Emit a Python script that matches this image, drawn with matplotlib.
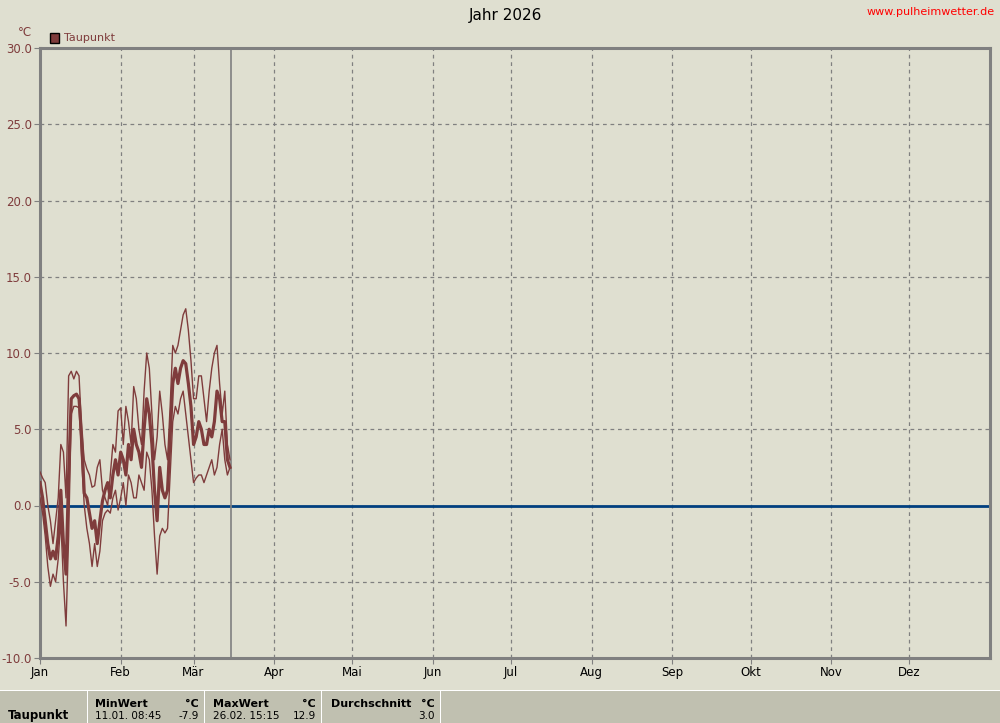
import numpy as np
import matplotlib.pyplot as plt
from matplotlib.patches import Rectangle

# day of year (0 = 1 Jan) for the drawn values
days = np.arange(0, 74)

# daily maximum dew point (thin upper line)
taupunkt_max = [2.2, 1.8, 1.5, 0.0, -1.0, -2.5, -1.0, 0.5, 4.0, 3.5,
                0.5, 8.5, 8.8, 8.3, 8.8, 8.5, 5.0, 3.0, 2.4, 2.0,
                1.2, 1.3, 2.5, 3.0, 1.0, 0.5, 0.0, 2.0, 4.0, 3.5,
                6.2, 6.4, 4.0, 6.5, 5.5, 4.0, 7.8, 7.0, 5.0, 4.0,
                7.5, 10.0, 9.0, 6.0, 3.0, 4.5, 7.5, 6.0, 4.0, 3.0,
                6.5, 10.5, 10.0, 10.5, 11.5, 12.5, 12.9, 11.5, 9.5, 7.0,
                7.0, 8.5, 8.5, 7.0, 5.5, 7.5, 9.0, 10.0, 10.5, 8.0,
                6.0, 7.5, 4.0, 3.0]

# daily minimum dew point (thin lower line)
taupunkt_min = [0.5, -0.5, -2.0, -4.0, -5.3, -4.5, -5.0, -3.5, -1.0, -5.0,
                -7.9, -2.0, 6.0, 6.5, 6.5, 6.4, 3.0, 0.0, -1.5, -2.5,
                -4.0, -2.5, -4.0, -3.0, -1.0, -0.5, -0.3, -0.5, 0.5, 1.0,
                -0.3, 0.5, 1.5, 0.0, 2.0, 1.5, 0.5, 0.5, 2.0, 1.5,
                1.0, 3.5, 3.0, 1.0, -2.0, -4.5, -2.0, -1.5, -1.8, -1.5,
                2.0, 5.5, 6.5, 6.0, 7.0, 7.5, 6.0, 4.5, 3.0, 1.5,
                1.8, 2.0, 2.0, 1.5, 2.0, 2.5, 3.0, 2.0, 2.5, 4.0,
                5.0, 3.0, 2.0, 2.5]

# daily mean dew point (thick line)
taupunkt = [1.5, 0.5, -1.0, -2.5, -3.5, -3.0, -3.5, -2.0, 1.0, -2.5,
            -4.5, 2.0, 7.0, 7.2, 7.3, 7.0, 4.5, 0.8, 0.5, -0.5,
            -1.5, -1.0, -2.5, -1.0, 0.3, 1.0, 1.5, 0.5, 2.0, 3.0,
            2.0, 3.5, 3.0, 2.0, 4.0, 3.0, 5.0, 4.0, 3.5, 2.5,
            5.0, 7.0, 6.0, 4.0, 1.0, -1.0, 2.5, 1.0, 0.5, 1.0,
            4.5, 8.0, 9.0, 8.0, 9.0, 9.5, 9.3, 8.0, 6.5, 4.0,
            4.5, 5.5, 5.0, 4.0, 4.0, 5.0, 4.5, 5.5, 7.5, 7.0,
            5.5, 5.5, 3.0, 2.5]

heute = 73.4
monate = ["Jan", "Feb", "Mär", "Apr", "Mai", "Jun", "Jul", "Aug", "Sep", "Okt", "Nov", "Dez"]
monat_start = [0, 31, 59, 90, 120, 151, 181, 212, 243, 273, 304, 334]
y_ticks = [-10, -5, 0, 5, 10, 15, 20, 25, 30]

bg = "#dfdfd0"
rot = "#7f3c3c"
grau = "#808080"

fig = plt.figure(figsize=(10, 7.23), dpi=100, facecolor=bg)
ax = fig.add_axes([0.04, 1 - 658 / 723, 0.95, 610 / 723])
ax.set_facecolor(bg)

ax.set_xlim(0, 365)
ax.set_ylim(-10, 30)

# grid
for m in monat_start[1:]:
    ax.axvline(m, color=grau, lw=0.9, ls=(0, (3, 3)), zorder=1)
for y in y_ticks[1:-1]:
    if y != 0:
        ax.axhline(y, color=grau, lw=0.9, ls=(0, (3, 3)), zorder=1)
ax.axhline(0, color="#003f7f", lw=2, zorder=2)
ax.axvline(heute, color=grau, lw=1.2, zorder=2)

ax.plot(days, taupunkt_max, color=rot, lw=1, zorder=3)
ax.plot(days, taupunkt_min, color=rot, lw=1, zorder=3)
ax.plot(days, taupunkt, color=rot, lw=2.3, zorder=4)

for s in ax.spines.values():
    s.set_color(grau)
    s.set_linewidth(2.2)

ax.set_yticks(y_ticks)
ax.set_yticklabels(["%.1f" % v for v in y_ticks], color=rot, fontsize=8.5)
ax.set_xticks(monat_start)
ax.set_xticklabels(monate, fontsize=8.5)
ax.tick_params(axis="both", length=4, color=grau, pad=2)

fig.text(0.506, 0.978, "Jahr 2026", ha="center", va="center", fontsize=11)
fig.text(0.995, 0.983, "www.pulheimwetter.de", ha="right", va="center", fontsize=8, color="red")
fig.text(0.025, 0.955, "°C", ha="center", va="center", fontsize=8.5, color=rot)
fig.patches.append(Rectangle((50 / 1000, 1 - 43 / 723), 9 / 1000, 10 / 723,
                             transform=fig.transFigure, facecolor=rot, edgecolor="black", lw=1))
fig.text(0.064, 1 - 38 / 723, "Taupunkt", ha="left", va="center", fontsize=8, color=rot)

# table at the bottom
zelle = "#c0c0b0"
spalten = [(0, 87), (88, 204), (205, 321), (322, 440), (441, 1000)]
for x0, x1 in spalten:
    fig.patches.append(Rectangle((x0 / 1000, 0), (x1 - x0) / 1000, 32 / 723,
                                 transform=fig.transFigure, facecolor=zelle, edgecolor="none"))
fig.patches.append(Rectangle((0, 32 / 723), 1, 1.5 / 723, transform=fig.transFigure,
                             facecolor="white", edgecolor="none"))
for xs in [87, 204, 321, 440]:
    fig.patches.append(Rectangle((xs / 1000, 0), 1.2 / 1000, 32 / 723, transform=fig.transFigure,
                                 facecolor="white", edgecolor="none"))

kopf = [("MinWert", 95, 199, "11.01. 08:45", "-7.9"),
        ("MaxWert", 213, 316, "26.02. 15:15", "12.9"),
        ("Durchschnitt", 331, 435, "", "3.0")]
for name, xl, xr, zeit, wert in kopf:
    fig.text(xl / 1000, 1 - 704 / 723, name, fontsize=8, fontweight="bold", va="center")
    fig.text(xr / 1000, 1 - 704 / 723, "°C", fontsize=8, fontweight="bold", va="center", ha="right")
    fig.text(xl / 1000, 1 - 716 / 723, zeit, fontsize=7.5, va="center")
    fig.text(xr / 1000, 1 - 716 / 723, wert, fontsize=7.5, va="center", ha="right")
fig.text(8 / 1000, 1 - 715 / 723, "Taupunkt", fontsize=8.5, fontweight="bold", va="center")

fig.savefig("out.png", dpi=100, facecolor=bg)
